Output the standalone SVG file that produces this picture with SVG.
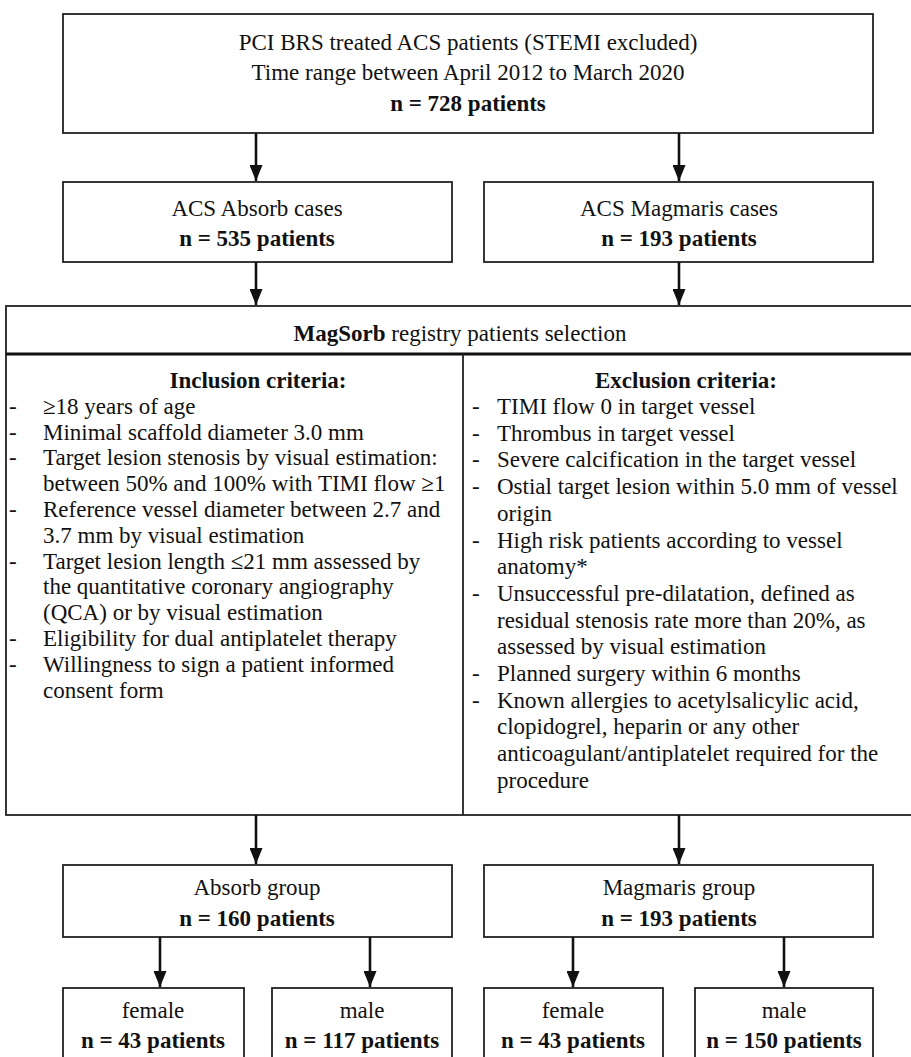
<svg xmlns="http://www.w3.org/2000/svg" width="911" height="1057" viewBox="0 0 911 1057">
<style>
text{font-family:"Liberation Serif","Times New Roman",serif;font-size:23px;fill:#111}
.c{text-anchor:middle}
.b{font-weight:bold}
.box{fill:#fff;stroke:#222;stroke-width:1.8}
.ln{stroke:#111;stroke-width:2.6;fill:none}
</style>
<defs>
<marker id="ah" markerWidth="16" markerHeight="13" refX="16" refY="6.5" orient="auto" markerUnits="userSpaceOnUse" viewBox="0 0 16 13"><path d="M0,0 L16,6.5 L0,13 Z" fill="#111"/></marker>
</defs>
<g id="top">
<rect class="box" x="63" y="14" width="810" height="119"/>
<text class="c" x="468" y="50">PCI BRS treated ACS patients (STEMI excluded)</text>
<text class="c" x="468" y="80">Time range between April 2012 to March 2020</text>
<text class="c b" x="468" y="111">n = 728 patients</text>
</g>
<g id="absorb-cases">
<rect class="box" x="63" y="182" width="389" height="80"/>
<text class="c" x="257" y="216">ACS Absorb cases</text>
<text class="c b" x="257" y="246">n = 535 patients</text>
</g>
<g id="magmaris-cases">
<rect class="box" x="484" y="182" width="389" height="80"/>
<text class="c" x="679" y="216">ACS Magmaris cases</text>
<text class="c b" x="679" y="246">n = 193 patients</text>
</g>
<g id="selection">
<rect class="box" x="6" y="306" width="920" height="509"/>
<line x1="6" y1="354" x2="911" y2="354" stroke="#111" stroke-width="3"/>
<line x1="463" y1="354" x2="463" y2="815" stroke="#222" stroke-width="1.8"/>
<text class="c" x="460" y="341"><tspan class="b">MagSorb</tspan> registry patients selection</text>
<text class="c b" x="258" y="388">Inclusion criteria:</text>
<g>
<text x="9" y="414">-</text><text x="43" y="414">≥18 years of age</text>
<text x="9" y="440">-</text><text x="43" y="440">Minimal scaffold diameter 3.0 mm</text>
<text x="9" y="465">-</text><text x="43" y="465">Target lesion stenosis by visual estimation:</text>
<text x="43" y="491">between 50% and 100% with TIMI flow ≥1</text>
<text x="9" y="517">-</text><text x="43" y="517">Reference vessel diameter between 2.7 and</text>
<text x="43" y="543">3.7 mm by visual estimation</text>
<text x="9" y="569">-</text><text x="43" y="569">Target lesion length ≤21 mm assessed by</text>
<text x="43" y="594">the quantitative coronary angiography</text>
<text x="43" y="620">(QCA) or by visual estimation</text>
<text x="9" y="646">-</text><text x="43" y="646">Eligibility for dual antiplatelet therapy</text>
<text x="9" y="672">-</text><text x="43" y="672">Willingness to sign a patient informed</text>
<text x="43" y="698">consent form</text>
</g>
<text class="c b" x="686" y="388">Exclusion criteria:</text>
<g>
<text x="472" y="414">-</text><text x="497" y="414">TIMI flow 0 in target vessel</text>
<text x="472" y="441">-</text><text x="497" y="441">Thrombus in target vessel</text>
<text x="472" y="467">-</text><text x="497" y="467">Severe calcification in the target vessel</text>
<text x="472" y="494">-</text><text x="497" y="494">Ostial target lesion within 5.0 mm of vessel</text>
<text x="497" y="521">origin</text>
<text x="472" y="548">-</text><text x="497" y="548">High risk patients according to vessel</text>
<text x="497" y="574">anatomy*</text>
<text x="472" y="601">-</text><text x="497" y="601">Unsuccessful pre-dilatation, defined as</text>
<text x="497" y="628">residual stenosis rate more than 20%, as</text>
<text x="497" y="654">assessed by visual estimation</text>
<text x="472" y="681">-</text><text x="497" y="681">Planned surgery within 6 months</text>
<text x="472" y="708">-</text><text x="497" y="708">Known allergies to acetylsalicylic acid,</text>
<text x="497" y="734">clopidogrel, heparin or any other</text>
<text x="497" y="761">anticoagulant/antiplatelet required for the</text>
<text x="497" y="788">procedure</text>
</g>
</g>
<g id="absorb-group">
<rect class="box" x="63" y="865" width="389" height="72"/>
<text class="c" x="257" y="895">Absorb group</text>
<text class="c b" x="257" y="926">n = 160 patients</text>
</g>
<g id="magmaris-group">
<rect class="box" x="484" y="865" width="389" height="72"/>
<text class="c" x="679" y="895">Magmaris group</text>
<text class="c b" x="679" y="926">n = 193 patients</text>
</g>
<g id="absorb-female">
<rect class="box" x="63" y="988" width="181" height="80"/>
<text class="c" x="153" y="1018">female</text>
<text class="c b" x="153" y="1048">n = 43 patients</text>
</g>
<g id="absorb-male">
<rect class="box" x="272" y="988" width="180" height="80"/>
<text class="c" x="362" y="1018">male</text>
<text class="c b" x="362" y="1048">n = 117 patients</text>
</g>
<g id="magmaris-female">
<rect class="box" x="484" y="988" width="179" height="80"/>
<text class="c" x="573" y="1018">female</text>
<text class="c b" x="573" y="1048">n = 43 patients</text>
</g>
<g id="magmaris-male">
<rect class="box" x="695" y="988" width="178" height="80"/>
<text class="c" x="784" y="1018">male</text>
<text class="c b" x="784" y="1048">n = 150 patients</text>
</g>
<g id="connectors">
<path class="ln" d="M256,133 V181" marker-end="url(#ah)"/>
<path class="ln" d="M679,133 V181" marker-end="url(#ah)"/>
<path class="ln" d="M256,262 V305" marker-end="url(#ah)"/>
<path class="ln" d="M679,262 V305" marker-end="url(#ah)"/>
<path class="ln" d="M256,815 V864" marker-end="url(#ah)"/>
<path class="ln" d="M679,815 V864" marker-end="url(#ah)"/>
<path class="ln" d="M160,937 V987" marker-end="url(#ah)"/>
<path class="ln" d="M370,937 V987" marker-end="url(#ah)"/>
<path class="ln" d="M573,937 V987" marker-end="url(#ah)"/>
<path class="ln" d="M784,937 V987" marker-end="url(#ah)"/>
</g>
</svg>
